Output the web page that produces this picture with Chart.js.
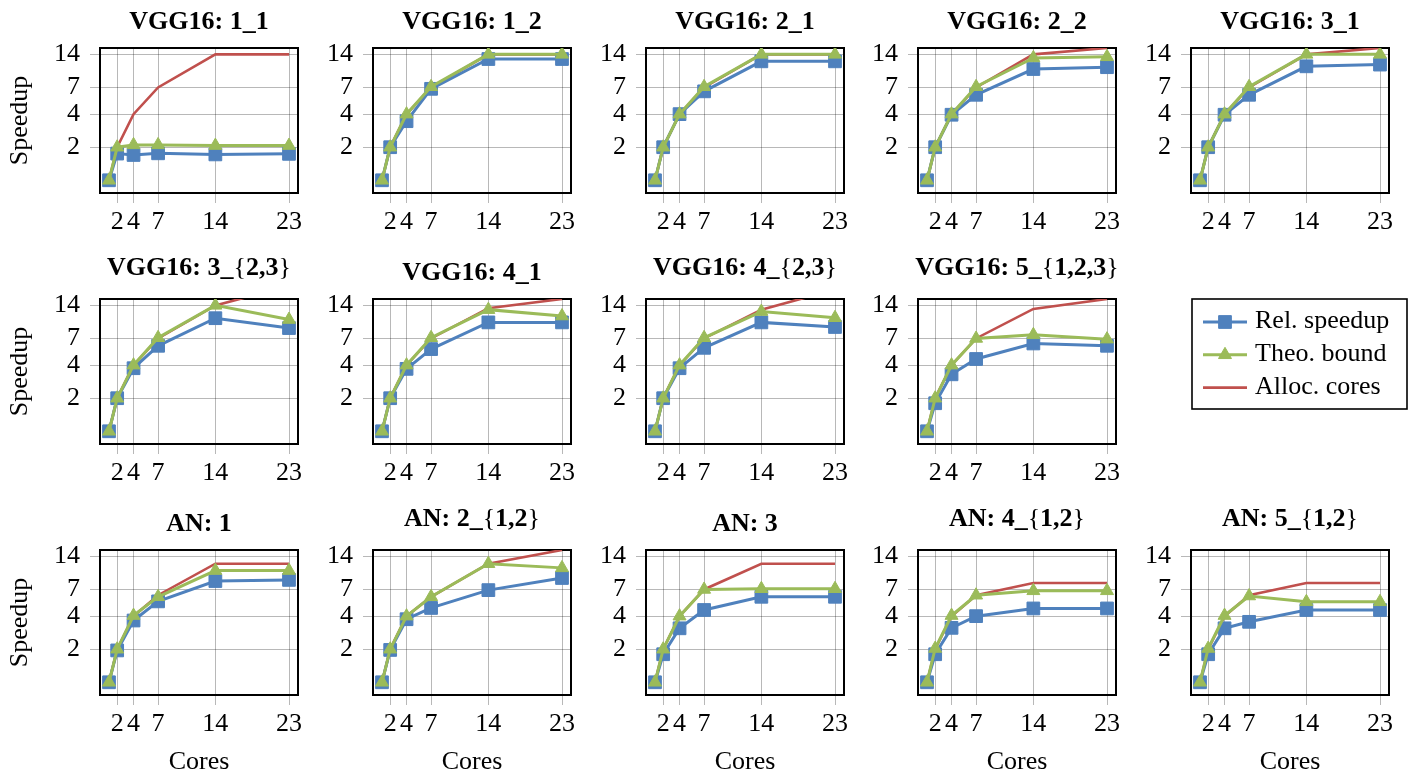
<!DOCTYPE html>
<html>
<head>
<meta charset="utf-8">
<script src="https://cdn.jsdelivr.net/npm/chart.js@4.4.1/dist/chart.umd.min.js"></script>
<style>
  html, body { margin: 0; padding: 0; background: #fff; }
  body { width: 1408px; height: 774px; overflow: hidden; position: relative; }
  canvas { position: absolute; }
</style>
</head>
<body>
<script>
// Cores on the x axis, same for every panel
const cores = [1, 2, 4, 7, 14, 23];
const xTicks = [2, 4, 7, 14, 23];
const yTicks = [2, 4, 7, 14];

const titles = [
  'VGG16: 1_1', 'VGG16: 1_2', 'VGG16: 2_1', 'VGG16: 2_2', 'VGG16: 3_1',
  'VGG16: 3_{2,3}', 'VGG16: 4_1', 'VGG16: 4_{2,3}', 'VGG16: 5_{1,2,3}',
  'AN: 1', 'AN: 2_{1,2}', 'AN: 3', 'AN: 4_{1,2}', 'AN: 5_{1,2}'
];

// one row per panel, values at cores 1, 2, 4, 7, 14, 23
const relSpeedup = [
  [1, 1.75, 1.7, 1.76, 1.72, 1.74],
  [1, 2, 3.45, 6.8, 12.7, 12.7],
  [1, 2, 4, 6.45, 12.1, 12.1],
  [1, 2, 3.95, 6.0, 10.3, 10.7],
  [1, 2, 3.95, 6.0, 10.9, 11.3],
  [1, 2, 3.75, 6.0, 10.7, 8.7],
  [1, 2, 3.7, 5.6, 9.8, 9.8],
  [1, 2, 3.75, 5.75, 9.8, 8.9],
  [1, 1.8, 3.3, 4.55, 6.3, 6.0],
  [1, 1.95, 3.65, 5.45, 8.35, 8.55],
  [1, 1.97, 3.75, 4.75, 6.9, 8.9],
  [1, 1.8, 3.1, 4.55, 6.0, 6.0],
  [1, 1.8, 3.13, 4.0, 4.7, 4.7],
  [1, 1.8, 3.1, 3.55, 4.55, 4.55]
];
const theoBound = [
  [1, 2.0, 2.1, 2.1, 2.07, 2.07],
  [1, 2, 4, 7.1, 14, 14],
  [1, 2, 4, 7.1, 14, 14],
  [1, 2, 4, 7.1, 13.0, 13.3],
  [1, 2, 4, 7.1, 14, 14],
  [1, 2, 4, 7.1, 14, 10.4],
  [1, 2, 4, 7.1, 12.8, 11.2],
  [1, 2, 4, 7.1, 12.3, 10.8],
  [1, 2, 4, 7.0, 7.55, 6.9],
  [1, 2, 4.05, 6.0, 10.4, 10.4],
  [1, 2, 4, 6.0, 12, 11],
  [1, 2, 4, 7.0, 7.1, 7.1],
  [1, 2.03, 4.05, 6.2, 6.8, 6.8],
  [1, 2.03, 4.05, 6.1, 5.4, 5.4]
];
const allocCores = [
  [1, 2, 4, 7, 14, 14],
  [1, 2, 4, 7, 14, 14],
  [1, 2, 4, 7, 14, 14],
  [1, 2, 4, 7, 14, 16],
  [1, 2, 4, 7, 14, 16],
  [1, 2, 4, 7, 14, 21],
  [1, 2, 4, 7, 13.2, 16],
  [1, 2, 4, 7, 12.8, 19.5],
  [1, 2, 4, 7, 13, 16],
  [1, 2, 4, 6.2, 12, 12],
  [1, 2, 4, 6, 12, 16],
  [1, 2, 4, 7, 12, 12],
  [1, 2, 4, 6.2, 8, 8],
  [1, 2, 4, 6.2, 8, 8]
];

const BLUE = '#4F81BD';
const GREEN = '#9BBB59';
const RED = '#C0504D';
const GRID = 'rgba(0,0,0,0.28)';
const FONT = "'Liberation Serif', 'Times New Roman', serif";
const FSIZE = 26;

// plot box geometry
const boxLeft = [100, 373, 646, 918, 1191];
const boxTop = [48, 299, 550];
const BOX_W = 198, BOX_H = 145;
const PAD_L = 100, PAD_T = 48, PAD_R = 12, PAD_B = 80;

// title: bold text, braces upright like in LaTeX math
function titleParts(text) {
  const m = text.match(/^(.*_)\{(.*)\}$/);
  if (!m) return [[text, true]];
  return [[m[1], true], ['{', false], [m[2], true], ['}', false]];
}

const panelText = {
  id: 'panelText',
  beforeDatasetsDraw(chart) {
    const {ctx, chartArea: a} = chart;
    ctx.save();
    ctx.strokeStyle = '#000';
    ctx.lineWidth = 2;
    ctx.strokeRect(a.left, a.top, a.width, a.height);
    ctx.restore();
  },
  afterDraw(chart, args, opts) {
    const {ctx, chartArea: a} = chart;
    const cx = (a.left + a.right) / 2;
    ctx.save();
    ctx.fillStyle = '#000';
    ctx.textBaseline = 'alphabetic';
    ctx.textAlign = 'left';

    const parts = titleParts(opts.title);
    const fonts = parts.map(p => (p[1] ? 'bold ' : '') + FSIZE + 'px ' + FONT);
    let total = 0;
    const widths = parts.map((p, k) => {
      ctx.font = fonts[k];
      const w = ctx.measureText(p[0]).width;
      total += w;
      return w;
    });
    let x = cx - total / 2;
    const ty = a.top - (parts.length > 1 ? 24.5 : 19);
    parts.forEach((p, k) => {
      ctx.font = fonts[k];
      ctx.fillText(p[0], x, ty);
      x += widths[k];
    });

    ctx.font = FSIZE + 'px ' + FONT;
    if (opts.yLabel) {
      ctx.save();
      ctx.translate(a.left - 80, (a.top + a.bottom) / 2);
      ctx.rotate(-Math.PI / 2);
      ctx.textAlign = 'center';
      ctx.textBaseline = 'middle';
      ctx.fillText('Speedup', 0, 0);
      ctx.restore();
    }
    if (opts.xLabel) {
      ctx.textAlign = 'center';
      ctx.fillText('Cores', cx, a.bottom + 74);
    }
    ctx.restore();
  }
};

function points(vals) {
  return cores.map((x, j) => ({x: x, y: vals[j]}));
}

function makePanel(i, row, col) {
  const canvas = document.createElement('canvas');
  canvas.width = PAD_L + BOX_W + PAD_R;
  canvas.height = PAD_T + BOX_H + PAD_B;
  canvas.style.left = (boxLeft[col] - PAD_L) + 'px';
  canvas.style.top = (boxTop[row] - PAD_T) + 'px';
  document.body.appendChild(canvas);

  const tickFont = {family: FONT, size: FSIZE};

  new Chart(canvas, {
    type: 'line',
    data: {
      datasets: [
        {
          label: 'Rel. speedup',
          data: points(relSpeedup[i]),
          borderColor: BLUE,
          backgroundColor: BLUE,
          borderWidth: 3,
          pointStyle: 'rect',
          pointRadius: 9,
          pointBorderWidth: 1,
          order: 1
        },
        {
          label: 'Theo. bound',
          data: points(theoBound[i]),
          borderColor: GREEN,
          backgroundColor: GREEN,
          borderWidth: 3,
          pointStyle: 'triangle',
          pointRadius: 7.5,
          pointBorderWidth: 1,
          order: 0
        },
        {
          label: 'Alloc. cores',
          data: points(allocCores[i]),
          borderColor: RED,
          backgroundColor: RED,
          borderWidth: 2.6,
          pointRadius: 0,
          order: 2
        }
      ]
    },
    options: {
      responsive: false,
      animation: false,
      devicePixelRatio: 1,
      layout: {padding: {left: 0, top: PAD_T, right: PAD_R, bottom: 0}},
      plugins: {
        legend: {display: false},
        tooltip: {enabled: false},
        panelText: {title: titles[i], yLabel: col === 0, xLabel: row === 2}
      },
      scales: {
        x: {
          type: 'linear',
          min: -0.1,
          max: 24.1,
          afterBuildTicks: s => { s.ticks = xTicks.map(v => ({value: v})); },
          afterFit: s => { s.height = PAD_B; },
          ticks: {autoSkip: false, maxRotation: 0, padding: 4, color: '#000', font: tickFont,
                  callback: v => String(v)},
          grid: {color: GRID, lineWidth: 1, tickLength: 10, tickColor: GRID},
          border: {display: false}
        },
        y: {
          type: 'logarithmic',
          min: 0.766,
          max: 16,
          afterBuildTicks: s => { s.ticks = yTicks.map(v => ({value: v})); },
          afterFit: s => { s.width = PAD_L; },
          ticks: {autoSkip: false, padding: 10, color: '#000', font: tickFont,
                  callback: v => String(v)},
          grid: {color: GRID, lineWidth: 1, tickLength: 10, tickColor: GRID},
          border: {display: false}
        }
      }
    },
    plugins: [panelText]
  });
}

// panel index -> grid cell (row 2 leaves the last cell for the legend)
titles.forEach((t, i) => {
  let row, col;
  if (i < 5) { row = 0; col = i; }
  else if (i < 9) { row = 1; col = i - 5; }
  else { row = 2; col = i - 9; }
  makePanel(i, row, col);
});

// Legend in the empty cell
function drawLegend() {
  const canvas = document.createElement('canvas');
  canvas.width = 228;
  canvas.height = 130;
  canvas.style.left = '1180px';
  canvas.style.top = '290px';
  document.body.appendChild(canvas);
  const ctx = canvas.getContext('2d');

  ctx.strokeStyle = '#000';
  ctx.lineWidth = 1.6;
  ctx.strokeRect(12, 9, 215, 110);

  const entries = [
    {text: 'Rel. speedup', color: BLUE, style: 'rect', radius: 9, width: 3},
    {text: 'Theo. bound', color: GREEN, style: 'triangle', radius: 7.5, width: 3},
    {text: 'Alloc. cores', color: RED, style: false, radius: 0, width: 2.6}
  ];
  entries.forEach((e, k) => {
    const y = 32 + k * 32.8;
    ctx.strokeStyle = e.color;
    ctx.fillStyle = e.color;
    ctx.lineWidth = e.width;
    ctx.beginPath();
    ctx.moveTo(23, y);
    ctx.lineTo(67, y);
    ctx.stroke();
    if (e.style) {
      ctx.lineWidth = 1;
      Chart.helpers.drawPoint(ctx, {pointStyle: e.style, radius: e.radius, borderWidth: 1, rotation: 0}, 45, y);
    }
    ctx.fillStyle = '#000';
    ctx.font = FSIZE + 'px ' + FONT;
    ctx.textBaseline = 'alphabetic';
    ctx.fillText(e.text, 75, y + 6);
  });
}
drawLegend();
</script>
</body>
</html>
